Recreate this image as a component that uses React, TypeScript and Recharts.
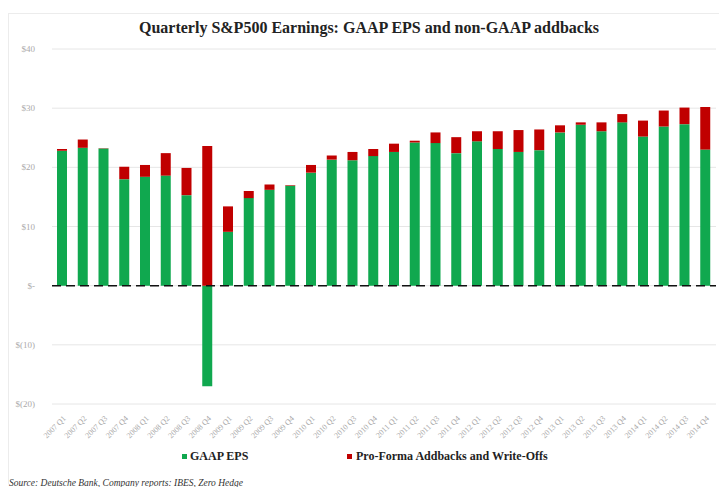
import React from "react";
import { BarChart, Bar, XAxis, YAxis, CartesianGrid, ReferenceLine } from "recharts";

const quarters = [
  "2007 Q1", "2007 Q2", "2007 Q3", "2007 Q4",
  "2008 Q1", "2008 Q2", "2008 Q3", "2008 Q4",
  "2009 Q1", "2009 Q2", "2009 Q3", "2009 Q4",
  "2010 Q1", "2010 Q2", "2010 Q3", "2010 Q4",
  "2011 Q1", "2011 Q2", "2011 Q3", "2011 Q4",
  "2012 Q1", "2012 Q2", "2012 Q3", "2012 Q4",
  "2013 Q1", "2013 Q2", "2013 Q3", "2013 Q4",
  "2014 Q1", "2014 Q2", "2014 Q3", "2014 Q4",
];

const gaapEps = [
  22.8, 23.3, 23.2, 18.0,
  18.4, 18.6, 15.3, -17.0,
  9.1, 14.8, 16.2, 16.9,
  19.1, 21.3, 21.2, 21.9,
  22.6, 24.2, 24.1, 22.4,
  24.4, 23.1, 22.6, 22.9,
  25.9, 27.2, 26.1, 27.6,
  25.2, 26.9, 27.3, 23.0,
];

const addbacks = [
  0.3, 1.4, 0.05, 2.1,
  2.0, 3.8, 4.6, 23.6,
  4.3, 1.2, 0.9, 0.1,
  1.3, 0.7, 1.4, 1.2,
  1.4, 0.3, 1.8, 2.7,
  1.7, 3.0, 3.7, 3.5,
  1.2, 0.4, 1.5, 1.4,
  2.7, 2.7, 2.8, 7.2,
];

const yTicks = [-20, -10, 0, 10, 20, 30, 40];

const GREEN = "#10a84f";
const RED = "#c00000";

const data = quarters.map((q, i) => ({ q, gaap: gaapEps[i], add: addbacks[i] }));

const fmtY = (v: number) => (v === 0 ? "$-" : v < 0 ? `$(${Math.abs(v)})` : `$${v}`);

const XTick = (props: any) => {
  const { x, y, payload } = props;
  return (
    <g transform={`translate(${x + 4},${y + 7})`}>
      <text
        x={0}
        y={0}
        textAnchor="end"
        transform="rotate(-45)"
        fontSize={8}
        fill="#aaa"
        fontFamily="'Liberation Serif', serif"
      >
        {payload.value}
      </text>
    </g>
  );
};

const YTick = (props: any) => {
  const { x, y, payload } = props;
  return (
    <text
      x={x - 9}
      y={y}
      dy={3}
      textAnchor="end"
      fontSize={9}
      fill="#aaa"
      fontFamily="'Liberation Serif', serif"
    >
      {fmtY(payload.value)}
    </text>
  );
};

export default function App() {
  return (
    <div
      style={{
        position: "absolute",
        left: 0,
        top: 0,
        width: 719,
        height: 487,
        background: "#fff",
        overflow: "hidden",
        fontFamily: "'Liberation Serif', serif",
      }}
    >
      <div
        style={{
          position: "absolute",
          left: 8,
          top: 13,
          width: 720,
          height: 470,
          borderLeft: "1px solid #ececec",
          borderTop: "1px solid #ececec",
        }}
      />
      <div
        style={{
          position: "absolute",
          left: 0,
          top: 19,
          width: 738,
          textAlign: "center",
          fontSize: 16,
          fontWeight: "bold",
          color: "#222",
        }}
      >
        Quarterly S&amp;P500 Earnings: GAAP EPS and non-GAAP addbacks
      </div>
      <div style={{ position: "absolute", left: 0, top: 0 }}>
        <BarChart
          width={719}
          height={487}
          data={data}
          stackOffset="sign"
          margin={{ top: 49, right: 3, bottom: 0, left: 0 }}
          barCategoryGap={0}
        >
          <CartesianGrid vertical={false} stroke="#e6e6e6" />
          <XAxis
            dataKey="q"
            interval={0}
            height={83}
            tickLine={false}
            axisLine={false}
            tick={<XTick />}
          />
          <YAxis
            width={52}
            domain={[-20, 40]}
            ticks={yTicks}
            tickLine={false}
            axisLine={false}
            tick={<YTick />}
          />
          <Bar dataKey="gaap" stackId="a" fill={GREEN} barSize={10} isAnimationActive={false} />
          <Bar dataKey="add" stackId="a" fill={RED} barSize={10} isAnimationActive={false} />
          <ReferenceLine y={0} stroke="#111" strokeWidth={1.5} strokeDasharray="9 5" />
        </BarChart>
      </div>
      <div
        style={{
          position: "absolute",
          left: 182,
          top: 449,
          fontSize: 12,
          fontWeight: "bold",
          color: "#222",
          display: "flex",
          alignItems: "center",
          whiteSpace: "nowrap",
        }}
      >
        <span style={{ display: "inline-block", width: 5, height: 5, background: GREEN, marginRight: 3 }} />
        GAAP EPS
      </div>
      <div
        style={{
          position: "absolute",
          left: 347,
          top: 449,
          fontSize: 12,
          fontWeight: "bold",
          color: "#222",
          display: "flex",
          alignItems: "center",
          whiteSpace: "nowrap",
        }}
      >
        <span style={{ display: "inline-block", width: 5, height: 5, background: RED, marginRight: 4 }} />
        Pro-Forma Addbacks and Write-Offs
      </div>
      <div
        style={{
          position: "absolute",
          left: 9,
          top: 478,
          fontSize: 9.5,
          fontStyle: "italic",
          color: "#333",
          whiteSpace: "nowrap",
        }}
      >
        Source: Deutsche Bank, Company reports: IBES, Zero Hedge
      </div>
    </div>
  );
}
